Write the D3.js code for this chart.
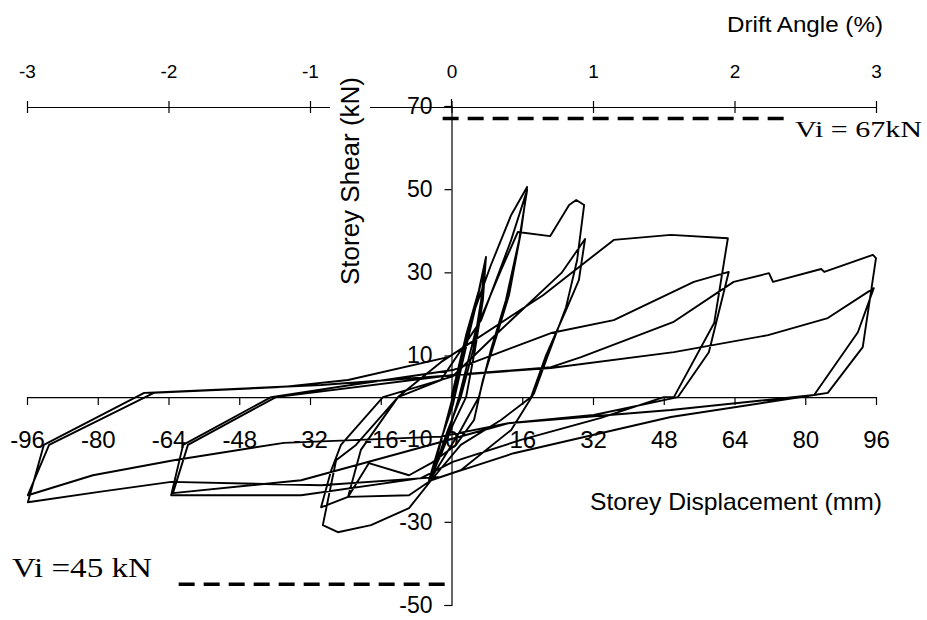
<!DOCTYPE html>
<html><head><meta charset="utf-8">
<script src="https://cdn.jsdelivr.net/npm/d3@7/dist/d3.min.js"></script>
<style>body{margin:0;background:#fff}svg{display:block}</style>
</head><body>
<svg id="chart" width="927" height="620"></svg>
<script>
// ---- data ----
const xTicks = [-96, -80, -64, -48, -32, -16, 0, 16, 32, 48, 64, 80, 96];
const yTicks = [70, 50, 30, 10, -10, -30, -50];
const driftTicks = [-3, -2, -1, 0, 1, 2, 3];
const dispMM = [
  0, 3.3, 6.2, 7.8, 7.1, 5.3, 3.3, 0.3, -2.4, -5.1,
  -2.4, 0.3, 2.6, 5.8, 7.6, 6.7, 4.9, 2.1, -0.8, -4.6,
  -1.7, 1.0, 4.4, 8.9, 13.5, 17.1, 15.7, 13.0, 10.1, 7.1, 5.1, 1.0, -4.6, -9.6, -18.7, -23.4,
  -20.5, -12.1, -2.4, 6.7, 13.5, 17.1, 15.3, 12.3, 8.9, 6.2, 2.1, -4.6,
  -1.2, 1.7, 5.5, 11.2, 15.0, 22.3, 26.6, 28.2, 30.0, 28.4, 25.9, 21.4, 18.7, 13.5, 2.1, -4.6, -9.6, -23.4, -29.5, -27.2, -25, -15.5,
  0.3, 11, 25, 30.2, 28.8, 25.9, 21.4, 18, 11.2, 2.1, -4.6, -9.6, -18.2, -25.7, -29.1, -26.1, -21.6, -12.1,
  -2.4, 20.7, 36.7, 49.6, 62.5, 59.4, 50.3, 48, 33.8, 15.7, 0.3, -6.9, -34, -63.4, -60.7, -40.8,
  -22.7, 0.3, 22.5, 36.7, 54.8, 62.7, 58.2, 51.2, 32.2, 12.8, -2.4, -34, -63, -59.6, -39.7,
  0.3, 22.5, 29.3, 50.1, 63.8, 71.8, 72.7, 83.6, 84.3, 95.3, 96, 93, 85.1, 82, 49.6, 14.1, -2.4, -29.5, -63.4, -79.7, -95.8, -92.2, -69.5, -29.5,
  22.5, 50.3, 71.6, 85.1, 95.5, 91.9, 82, 49.6, 12.8, -2.4, -37.9, -62.8, -81.1, -95.8, -91, -67.3, -38.6, -23.4, -0.8
];
const shearKN = [
  0, 14.9, 25.7, 33.7, 23.3, 11.3, 0, -6.7, -13.9, -20,
  -10.3, -1.9, 8.9, 23.3, 32.5, 23.3, 11.3, 0, -7.9, -19.5,
  -7.9, 2.9, 18.5, 31.7, 43.8, 50.5, 39.7, 24.5, 14.4, 4.1, -5.5, -11.5, -15.9, -18.8, -15.9, -24,
  -12.7, 0, 4.1, 18.5, 37.8, 49.8, 37.8, 23.3, 11.3, 0, -7.9, -19.5,
  -10.3, 0, 16.1, 30.5, 39.7, 38.7, 46.2, 47.4, 46.2, 32.9, 21.6, 8.9, 1.0, -7.9, -17.6, -20, -23.6, -24, -26.5, -17.6, -11.5, 0,
  5, 16, 30, 38, 28.1, 20.9, 10.1, 0, -5.5, -11.5, -20, -26.7, -30.8, -32.5, -30.8, -15.2, -11.5, 0,
  8.4, 24.5, 37.8, 39, 38.2, 17.8, 0, 0, -5, -10.3, -15.6, -19.5, -23.6, -23.6, -11.5, 0,
  2.9, 6.5, 15.4, 18.5, 27.7, 30.1, 10.8, 0, -4.3, -6.3, -10.8, -20, -23.1, -11.5, 0,
  5.3, 7.2, 9.6, 18, 27.7, 29.8, 27.7, 30.8, 30.1, 34.2, 33.4, 12, 1, 0.5, -4.8, -13.5, -19.2, -21.2, -20.4, -22.8, -25.3, -11.5, 1, 2.9,
  7, 10.8, 14.9, 19, 26.2, 15.6, 0.5, -3.1, -6.3, -9.5, -11, -15.2, -18.8, -23.6, -11.5, 1, 2.4, 4.1, 9.6
];
const viPos = {value: 67, from: -2, to: 77, label: "Vi = 67kN"};
const viNeg = {value: -45, from: -61.7, to: -1.2, label: "Vi =45 kN"};

// ---- drawing ----
const svg = d3.select("#chart");
const FONT = "'Liberation Sans', Arial, sans-serif";
const SERIF = "'Liberation Serif', 'Times New Roman', serif";
const fmt = d => String(d);

const x = d3.scaleLinear().domain([-96, 96]).range([27, 876]);
const y = d3.scaleLinear().domain([-50, 70]).range([605, 106]);
const drift = d3.scaleLinear().domain([-3, 3]).range([27, 876]);

// top drift axis
const dAxis = svg.append("g").attr("transform", `translate(0,107)`)
  .call(d3.axisTop(drift).tickValues(driftTicks).tickSize(6).tickSizeOuter(0).tickPadding(23).tickFormat(fmt));
dAxis.selectAll("text").attr("font-family", FONT).attr("font-size", 19).attr("fill", "#000");
dAxis.selectAll("line").attr("stroke", "#000").attr("stroke-width", 1.2);
dAxis.select(".domain").attr("stroke", "#000").attr("stroke-width", 1.2);
dAxis.selectAll(".tick").append("line").attr("y1", 0).attr("y2", 6).attr("stroke", "#000").attr("stroke-width", 1.2);

svg.append("text").attr("x", 727).attr("y", 32).attr("font-family", FONT).attr("font-size", 22)
  .attr("textLength", 156).attr("lengthAdjust", "spacingAndGlyphs").text("Drift Angle (%)");

// y title (white background interrupts the top axis line)
svg.append("rect").attr("x", 330).attr("y", 74).attr("width", 40).attr("height", 215).attr("fill", "#fff");
svg.append("text").attr("transform", "translate(359,285) rotate(-90)")
  .attr("font-family", FONT).attr("font-size", 26)
  .attr("textLength", 208).attr("lengthAdjust", "spacingAndGlyphs").text("Storey Shear (kN)");

// bottom x axis at y=0
const xAxis = svg.append("g").attr("transform", `translate(0,${y(0)})`)
  .call(d3.axisBottom(x).tickValues(xTicks).tickSize(8).tickSizeOuter(0).tickPadding(26).tickFormat(fmt));
xAxis.selectAll("text").attr("font-family", FONT).attr("font-size", 24).attr("fill", "#000");
xAxis.selectAll("line").attr("stroke", "#000").attr("stroke-width", 1.2);
xAxis.select(".domain").attr("stroke", "#000").attr("stroke-width", 1.2);
xAxis.selectAll(".tick").filter(d => d === 0).select("line").remove();

svg.append("text").attr("x", 590).attr("y", 510).attr("font-family", FONT).attr("font-size", 24)
  .attr("textLength", 292).attr("lengthAdjust", "spacingAndGlyphs").text("Storey Displacement (mm)");

// y axis at x=0
const yAxis = svg.append("g").attr("transform", `translate(${x(0)},0)`)
  .call(d3.axisLeft(y).tickValues(yTicks).tickSize(7).tickSizeOuter(7).tickPadding(12).tickFormat(fmt));
yAxis.selectAll("text").attr("font-family", FONT).attr("font-size", 23).attr("fill", "#000");
yAxis.selectAll("line").attr("stroke", "#000").attr("stroke-width", 1.2);
yAxis.select(".domain").attr("stroke", "#000").attr("stroke-width", 1.2);
svg.append("line").attr("x1", x(0)).attr("x2", x(0)).attr("y1", 99).attr("y2", y(70)).attr("stroke", "#000").attr("stroke-width", 1.2);

// hysteresis curve
const pts = dispMM.map((d, i) => [d, shearKN[i]]);
svg.append("path").datum(pts)
  .attr("d", d3.line().x(d => x(d[0])).y(d => y(d[1])))
  .attr("fill", "none").attr("stroke", "#000").attr("stroke-width", 1.9).attr("stroke-linejoin", "round");

// Vi dashed lines
[viPos, viNeg].forEach(v => {
  svg.append("line").attr("x1", x(v.from)).attr("x2", x(v.to)).attr("y1", y(v.value)).attr("y2", y(v.value))
    .attr("stroke", "#000").attr("stroke-width", 3.5).attr("stroke-dasharray", "16,9");
});
svg.append("text").attr("x", 795).attr("y", 137).attr("font-family", SERIF).attr("font-size", 24)
  .attr("textLength", 127).attr("lengthAdjust", "spacingAndGlyphs").text(viPos.label);
svg.append("text").attr("x", 12).attr("y", 577).attr("font-family", SERIF).attr("font-size", 27)
  .attr("textLength", 140).attr("lengthAdjust", "spacingAndGlyphs").text(viNeg.label);
</script>
</body></html>
